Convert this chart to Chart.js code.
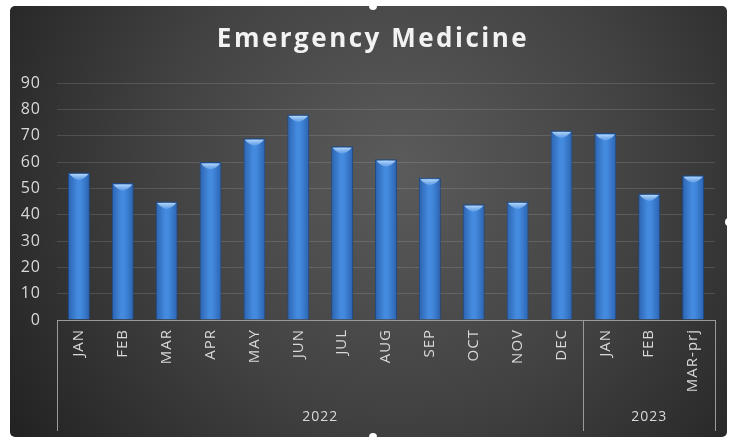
<!DOCTYPE html>
<html>
<head>
<meta charset="utf-8">
<script src="https://cdn.jsdelivr.net/npm/chart.js@4.4.1/dist/chart.umd.min.js"></script>
<style>
  html, body { margin: 0; padding: 0; background: #ffffff; }
  #wrap { width: 735px; height: 441px; position: relative; }
</style>
</head>
<body>
<div id="wrap"><canvas id="c" width="735" height="441"></canvas></div>
<script>
const titleText = 'Emergency Medicine';
const categories = ['JAN','FEB','MAR','APR','MAY','JUN','JUL','AUG','SEP','OCT','NOV','DEC','JAN','FEB','MAR-prj'];
const values = [56, 52, 45, 60, 69, 78, 66, 61, 54, 44, 45, 72, 71, 48, 55];
const yearLabels = ['2022', '2023'];
const yearSpans = [12, 3];
const yMin = 0, yMax = 90, yStep = 10;

const FONT = "'Open Sans', 'DejaVu Sans', sans-serif";
const TEXT = '#d9d9d9';

const spacingPlugin = {
  id: 'spacing',
  beforeUpdate(chart) { chart.ctx.letterSpacing = '1px'; },
  beforeLayout(chart) { chart.ctx.letterSpacing = '1px'; },
  beforeDraw(chart) { chart.ctx.letterSpacing = '1px'; }
};

const bgPlugin = {
  id: 'bg',
  beforeDraw(chart) {
    const c = chart.ctx;
    c.save();
    c.fillStyle = '#ffffff';
    c.fillRect(0, 0, chart.width, chart.height);
    const g = c.createRadialGradient(400, 170, 10, 400, 170, 470);
    g.addColorStop(0, '#5a5a5a');
    g.addColorStop(0.5, '#424242');
    g.addColorStop(1, '#222222');
    c.fillStyle = g;
    c.beginPath();
    c.roundRect(10, 6, 717, 431, 5);
    c.fill();
    // title (real text)
    c.fillStyle = '#f2f2f2';
    c.font = "bold 26px " + FONT;
    c.letterSpacing = '2.5px';
    c.textAlign = 'center';
    c.textBaseline = 'middle';
    c.fillText(titleText, 373, 40);
    c.restore();
  },
  afterDraw(chart) {
    const c = chart.ctx;
    c.save();
    c.fillStyle = '#ffffff';
    [[373, 6], [373, 437], [6, 222], [729, 222]].forEach(([x, y]) => {
      c.beginPath(); c.arc(x, y, 4, 0, Math.PI * 2); c.fill();
    });
    c.restore();
  }
};

const groupPlugin = {
  id: 'groups',
  afterDraw(chart) {
    const xs = chart.scales.x;
    const c = chart.ctx;
    const half = (xs.getPixelForValue(1) - xs.getPixelForValue(0)) / 2;
    const top = chart.chartArea.bottom, bot = 431;
    c.save();
    c.strokeStyle = '#9a9a9a';
    c.lineWidth = 1;
    let idx = 0;
    const bounds = [xs.getPixelForValue(0) - half];
    yearSpans.forEach(n => { idx += n; bounds.push(xs.getPixelForValue(idx - 1) + half); });
    bounds.forEach(b => {
      const x = Math.round(b) + 0.5;
      c.beginPath(); c.moveTo(x, top); c.lineTo(x, bot); c.stroke();
    });
    c.fillStyle = TEXT;
    c.font = "14px " + FONT;
    c.letterSpacing = '1px';
    c.textAlign = 'center';
    c.textBaseline = 'middle';
    yearLabels.forEach((t, i) => {
      c.fillText(t, (bounds[i] + bounds[i + 1]) / 2, 417);
    });
    c.restore();
  }
};

const capPlugin = {
  id: 'caps',
  afterDatasetsDraw(chart) {
    const c = chart.ctx;
    const meta = chart.getDatasetMeta(0);
    c.save();
    meta.data.forEach(bar => {
      const w = bar.width / 2 - 1.5;
      const g = c.createLinearGradient(0, bar.y + 1, 0, bar.y + 7);
      g.addColorStop(0, 'rgba(195,225,252,0.95)');
      g.addColorStop(1, 'rgba(120,175,240,0.6)');
      c.fillStyle = g;
      c.beginPath();
      c.moveTo(bar.x - w, bar.y + 1.5);
      c.lineTo(bar.x + w, bar.y + 1.5);
      c.quadraticCurveTo(bar.x + w * 0.6, bar.y + 6.5, bar.x, bar.y + 7.5);
      c.quadraticCurveTo(bar.x - w * 0.6, bar.y + 6.5, bar.x - w, bar.y + 1.5);
      c.closePath();
      c.fill();
    });
    c.restore();
  }
};

function barFill(ctx) {
  const chart = ctx.chart;
  const xs = chart.scales && chart.scales.x;
  if (!chart.chartArea || !xs) return '#3a7bd5';
  const x = xs.getPixelForValue(ctx.dataIndex);
  const g = chart.ctx.createLinearGradient(x - 11, 0, x + 11, 0);
  g.addColorStop(0, '#2b62b0');
  g.addColorStop(0.45, '#458ce0');
  g.addColorStop(0.6, '#4288dc');
  g.addColorStop(1, '#2b62b0');
  return g;
}

new Chart(document.getElementById('c'), {
  type: 'bar',
  data: {
    labels: categories,
    datasets: [{
      data: values,
      backgroundColor: barFill,
      borderColor: '#1d4a86',
      borderWidth: 1,
      barPercentage: 0.5,
      categoryPercentage: 1.0
    }]
  },
  options: {
    responsive: false,
    animation: false,
    devicePixelRatio: 1,
    layout: { padding: { left: 0, right: 20, top: 83, bottom: 0 } },
    plugins: {
      legend: { display: false },
      tooltip: { enabled: false },
      title: { display: false }
    },
    scales: {
      x: {
        grid: { display: false, drawTicks: false },
        border: { display: true, color: '#9a9a9a', width: 1 },
        ticks: {
          color: TEXT,
          font: { family: FONT, size: 15 },
          maxRotation: 90, minRotation: 90,
          padding: 9,
          autoSkip: false
        },
        afterFit(scale) { scale.height = 121; }
      },
      y: {
        min: yMin, max: yMax,
        grid: { color: 'rgba(255,255,255,0.13)', drawTicks: false },
        border: { display: false },
        ticks: {
          stepSize: yStep,
          color: TEXT,
          font: { family: FONT, size: 16 },
          padding: 16
        },
        afterFit(scale) { scale.width = 57; }
      }
    }
  },
  plugins: [spacingPlugin, bgPlugin, groupPlugin, capPlugin]
});
</script>
</body>
</html>
